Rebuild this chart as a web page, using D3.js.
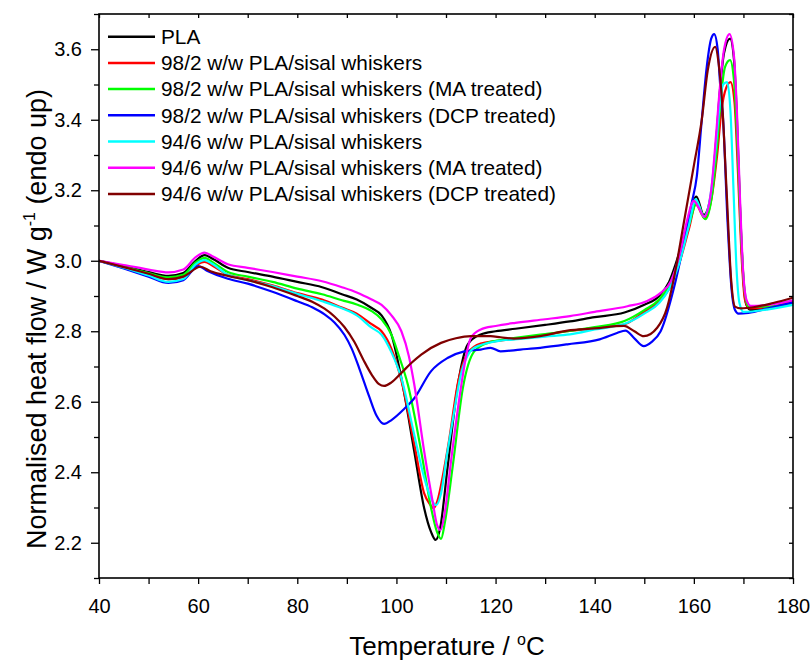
<!DOCTYPE html>
<head>
<meta charset="utf-8">
<script src="https://d3js.org/d3.v7.min.js"></script>
<style>
body { margin:0; background:#fff; }
svg text { font-family: "Liberation Sans", Arial, sans-serif; fill:#000; }
.line { fill:none; stroke-width:2.2; stroke-linejoin:round; }
.axis path { display:none; }
.axis line { stroke:#000; stroke-width:1.3; }
</style>
</head>
<body>
<svg width=812 height=661></svg>
<script>
// legend names and colours
var seriesNames = ["PLA",
  "98/2 w/w PLA/sisal whiskers",
  "98/2 w/w PLA/sisal whiskers (MA treated)",
  "98/2 w/w PLA/sisal whiskers (DCP treated)",
  "94/6 w/w PLA/sisal whiskers",
  "94/6 w/w PLA/sisal whiskers (MA treated)",
  "94/6 w/w PLA/sisal whiskers (DCP treated)"];
var seriesColours = ["#000000", "#ff0000", "#00ff00", "#0000ff", "#00ffff", "#ff00ff", "#800000"];

// [temperature, heat flow]
var pla = [[40,3.00],[45,2.985],[50,2.968],[54,2.957],[57,2.965],[59.5,3.00],[61.3,3.016],[63,3.005],[66,2.98],[70,2.968],[75,2.955],[80,2.94],[85,2.925],[89,2.905],[92,2.89],[95,2.866],[97,2.845],[99,2.79],[101,2.667],[103.6,2.459],[105.6,2.298],[107,2.23],[107.9,2.208],[108.8,2.24],[110.3,2.411],[112.4,2.649],[114.4,2.763],[117,2.791],[120,2.80],[124,2.807],[130,2.818],[135,2.828],[140,2.84],[146,2.853],[150,2.875],[153,2.90],[155,2.94],[157,3.02],[159,3.12],[160.5,3.182],[162,3.13],[163.5,3.19],[164.5,3.34],[165.3,3.49],[166.1,3.59],[167.3,3.63],[168.1,3.57],[168.7,3.40],[169.3,3.16],[169.9,2.97],[170.6,2.875],[171.5,2.86],[175,2.865],[180,2.88]];
var w2 = [[40,3.00],[45,2.982],[50,2.962],[54,2.948],[57,2.955],[59.5,2.987],[61.3,2.997],[63,2.985],[66,2.96],[70,2.948],[75,2.93],[80,2.908],[85,2.89],[89,2.867],[92,2.85],[95,2.82],[97,2.80],[99,2.75],[101,2.66],[103.6,2.48],[105.6,2.34],[106.7,2.31],[107.5,2.298],[108.3,2.32],[109.5,2.40],[110.5,2.48],[112.5,2.66],[114.5,2.74],[117,2.765],[120,2.772],[125,2.78],[130,2.79],[134.5,2.80],[140,2.81],[146,2.82],[150,2.855],[153,2.885],[155,2.92],[157,2.99],[159,3.09],[160.4,3.16],[162.2,3.12],[163.6,3.18],[164.7,3.30],[165.6,3.43],[166.5,3.49],[167.4,3.507],[168.2,3.45],[168.9,3.25],[169.6,3.02],[170.3,2.89],[171.2,2.865],[175,2.868],[180,2.885]];
var w2MA = [[40,3.00],[45,2.983],[50,2.965],[54,2.953],[57,2.96],[59.5,2.995],[61.3,3.008],[63,2.995],[66,2.968],[70,2.955],[75,2.94],[80,2.921],[85,2.905],[89,2.888],[92,2.876],[95,2.857],[97,2.834],[99,2.79],[100.5,2.73],[102.3,2.649],[105,2.459],[107,2.298],[108.2,2.23],[109,2.211],[109.8,2.26],[111.3,2.411],[113.4,2.639],[115.7,2.743],[118.4,2.767],[121,2.775],[124,2.781],[130,2.792],[134.5,2.80],[140,2.812],[146,2.829],[150,2.86],[153,2.89],[155,2.93],[157,3.00],[159,3.10],[160.6,3.165],[162.3,3.118],[163.7,3.19],[164.7,3.33],[165.5,3.47],[166.3,3.55],[167.3,3.569],[168.1,3.51],[168.8,3.33],[169.5,3.08],[170.2,2.92],[171,2.87],[175,2.87],[180,2.88]];
var w2DCP = [[40,3.00],[45,2.978],[50,2.955],[54,2.937],[57,2.945],[60,2.985],[62,2.97],[66,2.949],[70,2.935],[75,2.912],[80,2.885],[83,2.868],[85.5,2.848],[87.5,2.825],[89.5,2.79],[91,2.75],[92.5,2.695],[94.5,2.615],[96,2.56],[97.5,2.537],[99,2.548],[101.6,2.58],[103.6,2.61],[107,2.687],[110.3,2.724],[113.7,2.743],[117,2.748],[119,2.753],[121,2.743],[125,2.748],[129,2.753],[134.5,2.763],[141,2.777],[144.5,2.795],[146.2,2.802],[148,2.78],[149.9,2.758],[151.5,2.77],[153.3,2.80],[156,2.924],[158.6,3.094],[159.5,3.16],[160.6,3.24],[161.6,3.40],[162.6,3.55],[163.5,3.63],[164.1,3.643],[164.8,3.60],[165.4,3.48],[165.9,3.40],[166.8,3.11],[167.6,2.92],[168.3,2.86],[169,2.85],[171,2.852],[175,2.865],[180,2.882]];
var w6 = [[40,3.00],[45,2.98],[50,2.958],[54,2.94],[57,2.948],[59.5,2.99],[61.3,3.002],[63,2.99],[66,2.96],[70,2.945],[75,2.928],[80,2.906],[85,2.885],[89,2.865],[92,2.845],[95,2.81],[97,2.79],[99,2.74],[101,2.667],[103.6,2.506],[105.5,2.39],[107,2.325],[108,2.307],[109,2.34],[110.3,2.459],[111.5,2.56],[113,2.677],[115.7,2.753],[120.4,2.772],[125,2.778],[130,2.785],[135,2.791],[140,2.805],[146.6,2.824],[150,2.85],[153,2.88],[155,2.92],[157,2.99],[159,3.10],[160.4,3.175],[162,3.125],[163.4,3.19],[164.4,3.32],[165.2,3.44],[165.9,3.50],[166.7,3.507],[167.4,3.42],[168,3.20],[168.6,2.98],[169.2,2.88],[170,2.855],[175,2.862],[180,2.875]];
var w6MA = [[40,3.00],[45,2.988],[50,2.975],[54,2.967],[57,2.975],[59.5,3.01],[61.3,3.023],[63,3.012],[66,2.99],[70,2.98],[75,2.968],[80,2.955],[85,2.942],[89,2.925],[92,2.91],[95,2.89],[97,2.875],[99,2.845],[101,2.80],[102.5,2.73],[103.6,2.649],[105.6,2.459],[107.3,2.317],[108.2,2.25],[108.9,2.236],[109.7,2.28],[111,2.43],[113,2.639],[114.2,2.74],[115,2.781],[117,2.805],[120,2.815],[124,2.824],[130,2.834],[135,2.843],[140,2.855],[146.6,2.871],[150.6,2.886],[153.3,2.909],[155.4,2.943],[157.3,3.028],[158.6,3.113],[160,3.17],[161,3.15],[162.1,3.125],[163.5,3.20],[164.5,3.36],[165.3,3.50],[166.1,3.60],[167.2,3.643],[168.1,3.58],[168.7,3.42],[169.3,3.18],[169.9,2.98],[170.6,2.89],[171.5,2.872],[175,2.875],[180,2.888]];
var w6DCP = [[40,3.00],[45,2.982],[50,2.963],[54,2.948],[57,2.955],[60.5,2.983],[62.5,2.97],[66,2.957],[70,2.945],[75,2.925],[80,2.90],[83,2.884],[85.5,2.864],[87.5,2.842],[89.5,2.812],[91.5,2.77],[93.3,2.72],[95,2.677],[96.5,2.65],[97.5,2.645],[99,2.655],[101,2.682],[103,2.71],[105,2.734],[109,2.767],[112,2.78],[115,2.786],[119,2.786],[121,2.783],[123.7,2.779],[129,2.786],[134.5,2.802],[140,2.808],[145.9,2.815],[148,2.80],[149.9,2.786],[152.6,2.81],[154.6,2.867],[156,2.952],[158,3.11],[160,3.27],[161.6,3.40],[162.8,3.54],[164.3,3.607],[165,3.56],[165.7,3.45],[166.6,3.20],[167.5,2.95],[168.3,2.87],[169.5,2.865],[172,2.868],[176,2.88],[180,2.895]];
var seriesData = [pla, w2, w2MA, w2DCP, w6, w6MA, w6DCP];

var xMajor = [40, 60, 80, 100, 120, 140, 160, 180];
var xMinor = [50, 70, 90, 110, 130, 150, 170];
var yMajor = [2.2, 2.4, 2.6, 2.8, 3.0, 3.2, 3.4, 3.6];
var yMinor = [2.1, 2.3, 2.5, 2.7, 2.9, 3.1, 3.3, 3.5, 3.7];

var svg = d3.select("svg");
var margin = {top: 14, right: 19, bottom: 83, left: 99};
var width = 812, height = 661;

var x = d3.scaleLinear().domain([40, 180]).range([margin.left, width - margin.right]);
var y = d3.scaleLinear().domain([2.1, 3.7]).range([height - margin.bottom, margin.top]);

var line = d3.line()
  .curve(d3.curveMonotoneX)
  .x(d => x(d[0]))
  .y(d => y(d[1]));

// curves
svg.append("g").selectAll("path")
  .data(seriesData)
  .enter().append("path")
  .attr("class", "line")
  .style("stroke", (d, i) => seriesColours[i])
  .attr("d", d => line(d));

// frame
svg.append("rect")
  .attr("x", margin.left).attr("y", margin.top)
  .attr("width", width - margin.left - margin.right)
  .attr("height", height - margin.top - margin.bottom)
  .style("fill", "none").style("stroke", "#000").style("stroke-width", 1.6);

var yb = height - margin.bottom;
var xr = width - margin.right;

// bottom axis
svg.append("g").attr("class", "axis")
  .attr("transform", "translate(0," + yb + ")")
  .call(d3.axisBottom(x).tickValues(xMajor).tickSize(6).tickPadding(15).tickFormat(d3.format("d")))
  .selectAll("text").style("font-size", "20px");
svg.append("g").attr("class", "axis")
  .attr("transform", "translate(0," + yb + ")")
  .call(d3.axisBottom(x).tickValues(xMinor).tickSize(6).tickFormat(""));
// top axis, inward
svg.append("g").attr("class", "axis")
  .attr("transform", "translate(0," + margin.top + ")")
  .call(d3.axisBottom(x).tickValues(xMajor.concat(xMinor)).tickSize(4).tickFormat(""));

// left axis
svg.append("g").attr("class", "axis")
  .attr("transform", "translate(" + margin.left + ",0)")
  .call(d3.axisLeft(y).tickValues(yMajor).tickSize(8).tickPadding(9).tickFormat(d3.format(".1f")))
  .selectAll("text").style("font-size", "20px");
svg.append("g").attr("class", "axis")
  .attr("transform", "translate(" + margin.left + ",0)")
  .call(d3.axisLeft(y).tickValues(yMinor).tickSize(5).tickFormat(""));
// right axis, inward
svg.append("g").attr("class", "axis")
  .attr("transform", "translate(" + xr + ",0)")
  .call(d3.axisLeft(y).tickValues(yMajor.concat(yMinor)).tickSize(4).tickFormat(""));

// axis titles
var xt = svg.append("text")
  .attr("x", 447).attr("y", 655)
  .attr("text-anchor", "middle")
  .style("font-size", "26px");
xt.append("tspan").text("Temperature / ");
xt.append("tspan").text("o").attr("dy", -10).style("font-size", "16px");
xt.append("tspan").text("C").attr("dy", 10);

var yt = svg.append("text")
  .attr("transform", "translate(46,319) rotate(-90)")
  .attr("text-anchor", "middle")
  .style("font-size", "27px");
yt.append("tspan").text("Normalised heat flow / W g");
yt.append("tspan").text("-1").attr("dy", -11).style("font-size", "16px");
yt.append("tspan").text(" (endo up)").attr("dy", 11);

// legend
var legend = svg.append("g").selectAll("g")
  .data(seriesNames)
  .enter().append("g")
  .attr("transform", (d, i) => "translate(0," + (36.7 + i * 26.2) + ")");
legend.append("line")
  .attr("x1", 108).attr("x2", 155)
  .style("stroke", (d, i) => seriesColours[i])
  .style("stroke-width", 2.5);
legend.append("text")
  .attr("x", 161).attr("dy", "0.35em")
  .style("font-size", "20.8px")
  .text(d => d);
</script>
</body>
